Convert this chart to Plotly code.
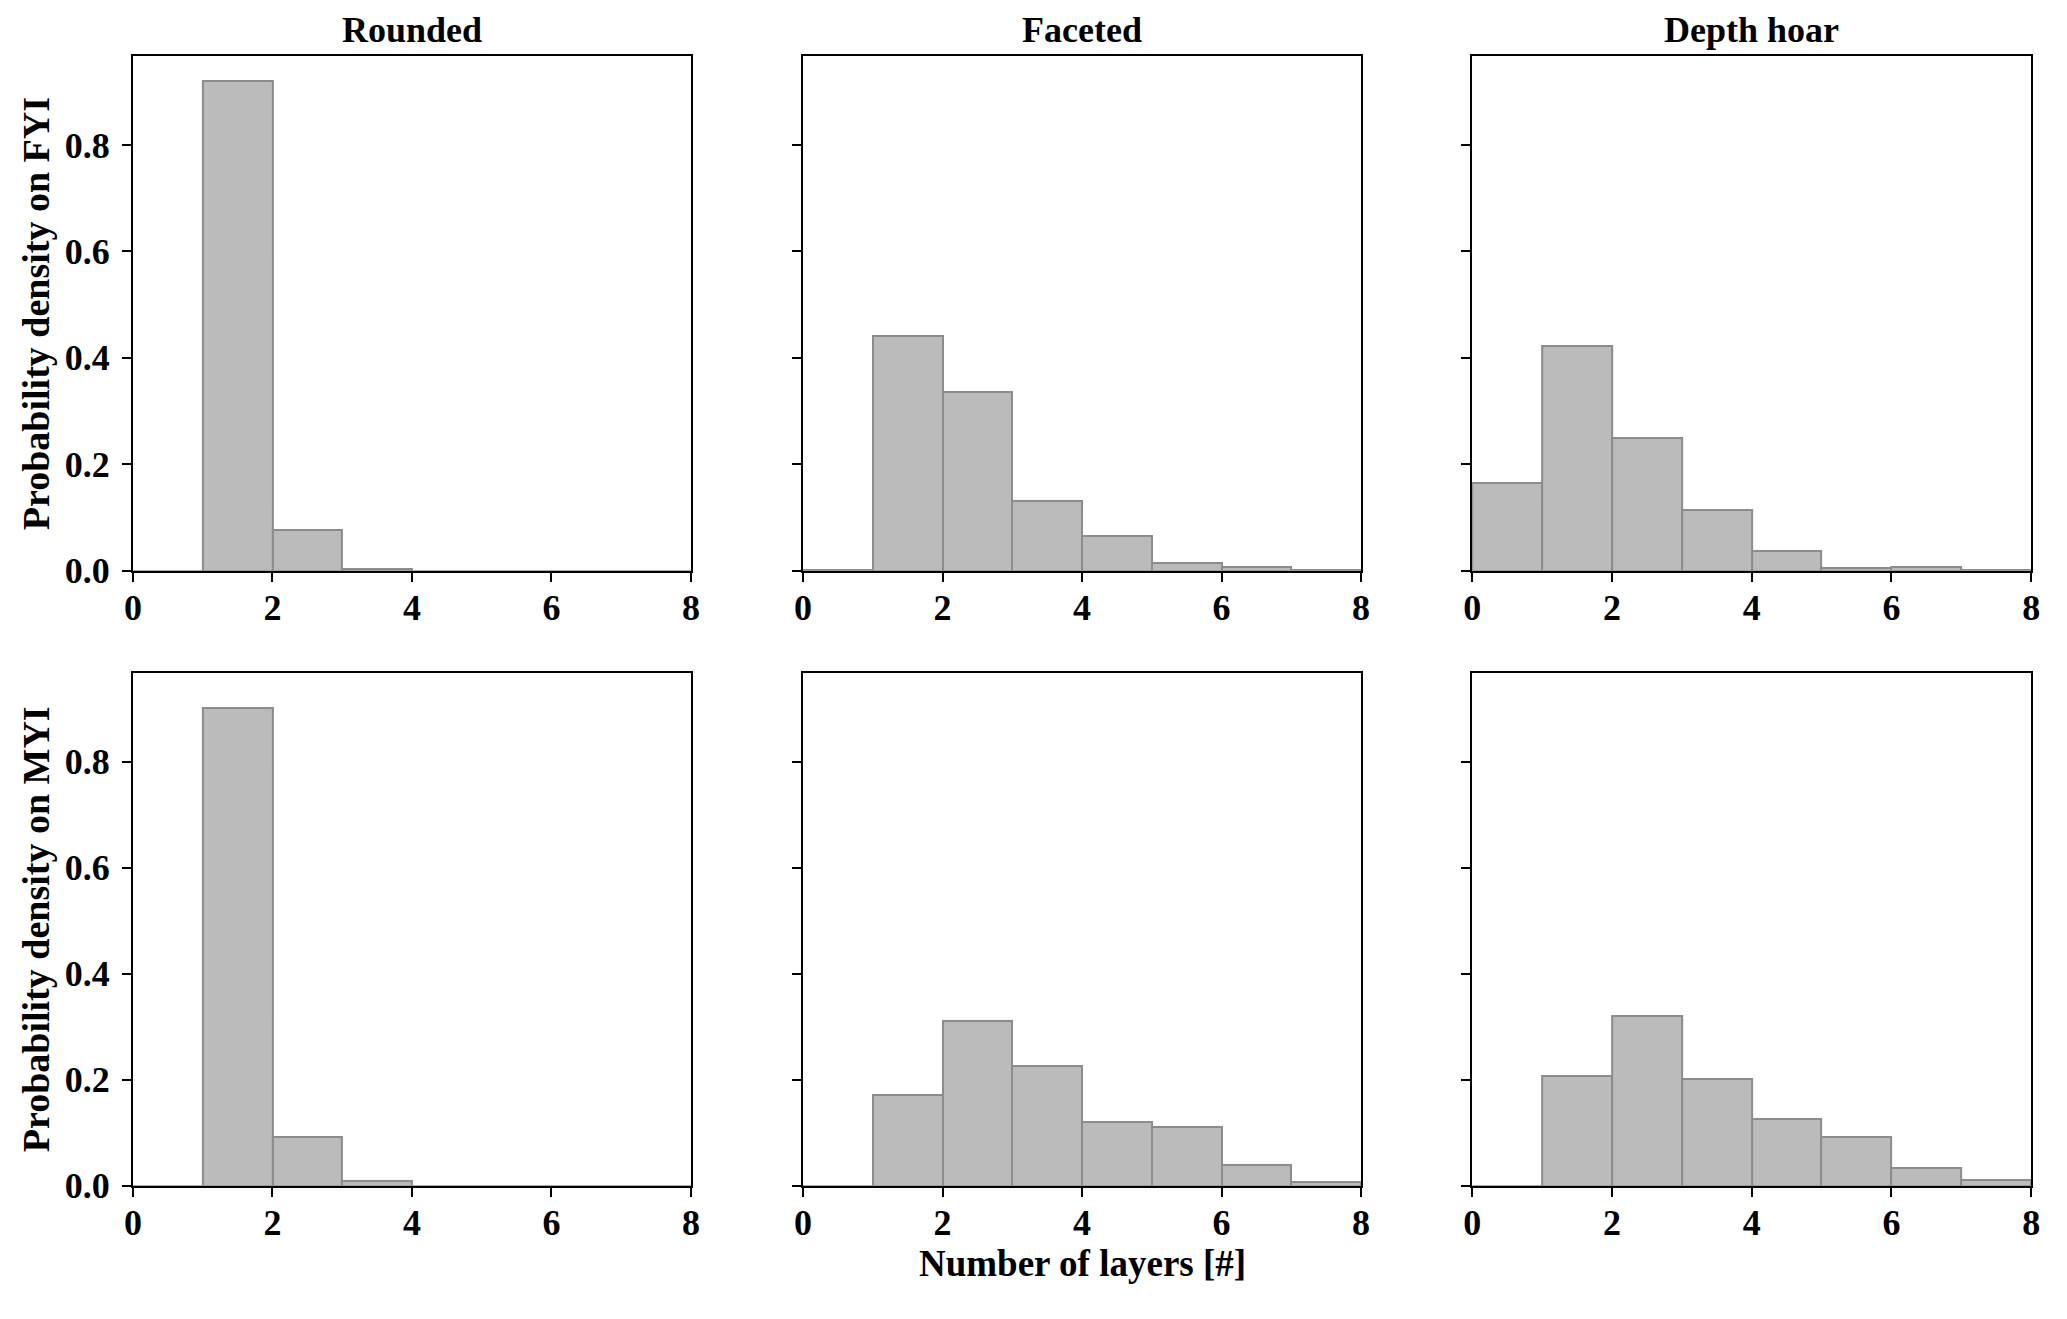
import plotly.graph_objects as go

# Bin edges: integer bins 0-1, 1-2, ..., 7-8
bin_left = [0, 1, 2, 3, 4, 5, 6, 7]
bin_width = 1

col_titles = ["Rounded", "Faceted", "Depth hoar"]
row_labels = ["Probability density on FYI", "Probability density on MYI"]

# Probability density per bin (FYI row)
fyi_rounded = [0.0, 0.921, 0.077, 0.003, 0.0, 0.0, 0.0, 0.0]
fyi_faceted = [0.002, 0.441, 0.335, 0.131, 0.066, 0.015, 0.007, 0.001]
fyi_depth_hoar = [0.164, 0.422, 0.249, 0.114, 0.037, 0.005, 0.007, 0.001]

# Probability density per bin (MYI row)
myi_rounded = [0.0, 0.901, 0.091, 0.009, 0.0, 0.0, 0.0, 0.0]
myi_faceted = [0.0, 0.172, 0.311, 0.225, 0.120, 0.111, 0.039, 0.007]
myi_depth_hoar = [0.0, 0.206, 0.321, 0.202, 0.126, 0.092, 0.034, 0.010]

x_ticks = [0, 2, 4, 6, 8]
y_ticks = [0.0, 0.2, 0.4, 0.6, 0.8]
y_ticktext = ["0.0", "0.2", "0.4", "0.6", "0.8"]

series = [
    [fyi_rounded, fyi_faceted, fyi_depth_hoar],
    [myi_rounded, myi_faceted, myi_depth_hoar],
]

W, H = 2067, 1319
col_px = [(125, 688), (801, 1364), (1476, 2040)]
row_px = [(57, 580), (684, 1205)]

FONT = "Liberation Serif"
FILL = "#bbbbbb"
EDGE = "#8c8c8c"

ymax = max(max(v) for row in series for v in row) * 1.05

fig = go.Figure()
layout = dict(
    width=W, height=H,
    margin=dict(l=0, r=0, t=0, b=0),
    paper_bgcolor="white", plot_bgcolor="white",
    showlegend=False, bargap=0,
    font=dict(family=FONT, color="black"),
)

annotations = []
idx = 0
for r in range(2):
    for c in range(3):
        idx += 1
        xa = "x" if idx == 1 else f"x{idx}"
        ya = "y" if idx == 1 else f"y{idx}"
        centers = [b + bin_width / 2 for b in bin_left]
        fig.add_trace(go.Bar(
            x=centers, y=series[r][c], width=[bin_width] * len(centers),
            marker=dict(color=FILL, line=dict(color=EDGE, width=2)),
            xaxis=xa, yaxis=ya, hoverinfo="x+y",
        ))
        x0, x1 = col_px[c]
        yt, yb = row_px[r]
        layout["xaxis" if idx == 1 else f"xaxis{idx}"] = dict(
            domain=[x0 / W, x1 / W], anchor=ya, range=[0, 8],
            tickvals=x_ticks, ticks="outside", ticklen=9, tickwidth=2,
            tickcolor="black", showline=True, linecolor="black", linewidth=2,
            mirror=True, showgrid=False, zeroline=False,
            tickfont=dict(family=FONT, size=36, color="black", weight="bold"),
            ticklabelstandoff=-5,
        )
        layout["yaxis" if idx == 1 else f"yaxis{idx}"] = dict(
            domain=[1 - yb / H, 1 - yt / H], anchor=xa, range=[0, ymax],
            tickvals=y_ticks, ticktext=y_ticktext, ticks="outside", ticklen=9,
            tickwidth=2, tickcolor="black", showline=True, linecolor="black",
            linewidth=2, mirror=True, showgrid=False, zeroline=False,
            showticklabels=(c == 0),
            tickfont=dict(family=FONT, size=36, color="black", weight="bold"),
            ticklabelstandoff=5,
        )

for c in range(3):
    x0, x1 = col_px[c]
    annotations.append(dict(
        text=col_titles[c], x=(x0 + x1) / 2 / W, y=1 - 30 / H,
        xref="paper", yref="paper", showarrow=False,
        xanchor="center", yanchor="middle",
        font=dict(family=FONT, size=36, color="black", weight="bold"),
    ))

for r in range(2):
    yt, yb = row_px[r]
    annotations.append(dict(
        text=row_labels[r], x=28 / W, y=1 - (yt + yb) / 2 / H,
        xref="paper", yref="paper", showarrow=False, textangle=-90,
        xanchor="center", yanchor="middle",
        font=dict(family=FONT, size=38, color="black", weight="bold"),
    ))

annotations.append(dict(
    text="Number of layers [#]", x=(col_px[1][0] + col_px[1][1]) / 2 / W,
    y=1 - 1284 / H, xref="paper", yref="paper", showarrow=False,
    xanchor="center", yanchor="middle",
    font=dict(family=FONT, size=37, color="black", weight="bold"),
))

layout["annotations"] = annotations
fig.update_layout(**layout)
fig.write_html(
    "out.html",
    config={"displayModeBar": False},
    post_script="document.body.style.margin='0';document.body.style.overflow='hidden';",
)
